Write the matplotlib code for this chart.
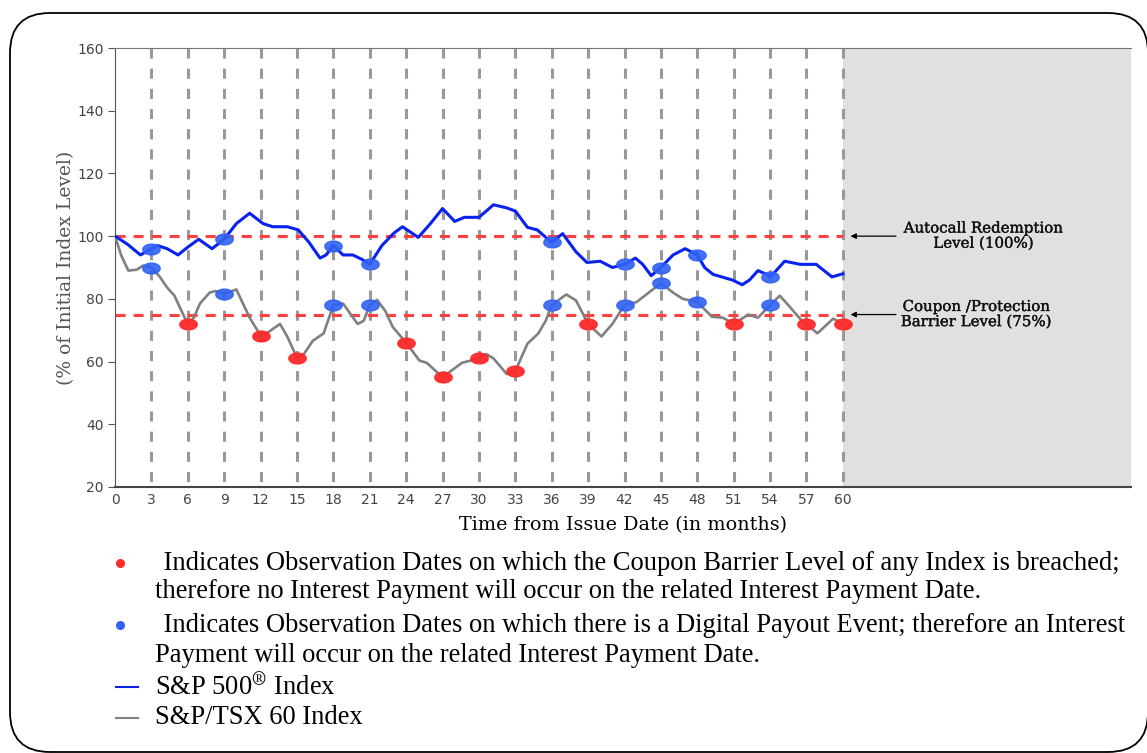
import numpy as np
import matplotlib
matplotlib.use("Agg")
import matplotlib.pyplot as plt
import matplotlib.patheffects as pe
from matplotlib.path import Path
from matplotlib.patches import FancyBboxPatch

plt.rcParams['mathtext.fontset'] = 'stix'

# S&P 500 path (month, % of initial level)
spx_month = [0, 1, 2.1, 3, 3.5, 4.3, 5.2, 6.0, 6.9, 8, 9, 10, 11.1, 12.2, 13, 14.2, 15.1,
             16, 16.9, 17.4, 18, 18.8, 19.6, 20.4, 21, 22, 23, 23.7, 25, 26, 27, 28, 28.8,
             30, 31.2, 32.3, 33, 34, 34.8, 36, 36.9, 38, 38.9, 40, 41, 42, 42.9, 43.5,
             44.2, 45, 46, 47, 48, 48.6, 49.3, 50.9, 51.7, 52.3, 53, 53.6, 54, 54.5,
             55.2, 56.5, 57.8, 59.1, 60]
spx_level = [100, 97.5, 94, 96, 97, 96, 94, 96.5, 99, 96, 99, 104, 107.3, 104, 103, 103, 102,
             98, 93, 94, 97, 94, 94, 92.5, 91, 97, 101, 103, 99.6, 104, 108.8, 104.7, 106,
             106, 110, 109, 108, 102.8, 102, 98, 100.8, 95, 91.6, 92, 90, 91, 93, 91,
             87.4, 90, 94, 96, 94, 90, 87.8, 86, 84.5, 86, 89, 88, 87, 89,
             92, 91, 91, 87, 88]

# S&P/TSX 60 path
tsx_month = [0, 0.5, 1.1, 1.8, 2.3, 3, 3.7, 4.3, 4.9, 5.5, 6, 6.5, 7, 7.8, 8.3, 9, 10, 11.1,
             12, 12.5, 13.6, 14.2, 15, 15.5, 16.3, 17.2, 18, 18.8, 20, 20.5, 21, 21.6, 22.3,
             22.9, 24, 25.1, 25.7, 27, 28.6, 30, 30.6, 31.2, 32.3, 33, 34, 34.9, 35.5, 36,
             37.2, 38, 39, 40.1, 41, 42, 43, 44, 45, 46, 46.8, 48, 49.2, 50.1, 51, 52.2,
             53, 54, 54.8, 55.5, 56.5, 57, 57.9, 59.2, 60]
tsx_level = [100, 94, 89, 89.3, 90.6, 90, 87, 83.6, 81, 76, 72, 74, 78.5, 82, 82.5, 81.5, 83, 74,
             68.3, 69, 72, 68, 61.2, 62, 66.6, 69, 78, 78.5, 72, 73, 78, 79.7, 76,
             71, 66, 60.3, 59.6, 55, 59.6, 61, 62.4, 61, 56, 57, 65.7, 69, 73, 78,
             81.4, 79.5, 72, 68, 72, 78, 79, 82, 85, 82, 80, 79, 74.3, 74, 72, 75,
             74, 78, 81, 78, 73.5, 72, 69, 73.7, 72]

# observation dates with a digital payout event (blue) and barrier breach (red)
blue_month = [3, 9, 18, 21, 36, 42, 45, 48, 54]
blue_spx = [96, 99, 97, 91, 98, 91, 90, 94, 87]
blue_tsx = [90, 81.5, 78, 78, 78, 78, 85, 79, 78]
red_month = [6, 12, 15, 24, 27, 30, 33, 39, 51, 57, 60]
red_tsx = [72, 68.3, 61.2, 66, 55, 61, 57, 72, 72, 72, 72]

obs_months = list(range(3, 61, 3))
autocall_level = 100
barrier_level = 75

W, H = 1147, 753
fig = plt.figure(figsize=(W / 100, H / 100), dpi=100)
fig.patch.set_facecolor('white')

# overlay in pixel coordinates for frame and notes
ov = fig.add_axes([0, 0, 1, 1], zorder=0)
ov.set_xlim(0, W)
ov.set_ylim(H, 0)
ov.axis('off')
frame = FancyBboxPatch((10, 13), 1138, 739, boxstyle='round,pad=0,rounding_size=40',
                       fill=False, ec='black', lw=1.3, clip_on=False)
ov.add_patch(frame)

ax = fig.add_axes([115 / W, 1 - 487 / H, (1131 - 115) / W, (487 - 48) / H], zorder=1)
x_end = 83.75
ax.set_xlim(0, x_end)
ax.set_ylim(20, 160)
ax.axvspan(60, x_end, color='#e0e0e0', zorder=0, lw=0)

for m in obs_months:
    ax.plot([m, m], [160, 20], color='#999999', lw=2.2, ls=(0, (3.3, 3.3)), zorder=1)

for lvl in [autocall_level, barrier_level]:
    ax.plot([0, 60], [lvl, lvl], color='#ff4040', lw=2.2, ls=(0, (3.3, 2.6)), zorder=2)

ax.plot(tsx_month, tsx_level, color='#808080', lw=1.9, zorder=3, solid_joinstyle='round')
ax.plot(spx_month, spx_level, color='#0a22f0', lw=2.2, zorder=4, solid_joinstyle='round')

t = np.linspace(0, 2 * np.pi, 60)
ell = Path(np.column_stack([np.cos(t), 0.62 * np.sin(t)]), closed=True)
ax.plot(blue_month, blue_spx, ls='none', marker=ell, ms=12.5, color='#2f62f5', alpha=0.9, zorder=5)
ax.plot(blue_month, blue_tsx, ls='none', marker=ell, ms=12.5, color='#2f62f5', alpha=0.9, zorder=5)
ax.plot(red_month, red_tsx, ls='none', marker=ell, ms=12.5, color='#ff2a2a', alpha=0.95, zorder=5)

ax.annotate('', xy=(60.4, autocall_level), xytext=(64.6, autocall_level),
            arrowprops=dict(arrowstyle='-|>', color='black', lw=0.9, mutation_scale=8))
ax.annotate('', xy=(60.4, barrier_level), xytext=(64.6, barrier_level),
            arrowprops=dict(arrowstyle='-|>', color='black', lw=0.9, mutation_scale=8))
thick = [pe.withStroke(linewidth=0.25, foreground='#111111')]
ax.text(71.6, autocall_level, 'Autocall Redemption\nLevel (100%)', ha='center', va='center',
        family='DejaVu Serif', fontsize=10.8, color='#111111', linespacing=1.1, path_effects=thick)
ax.text(71.0, barrier_level, 'Coupon /Protection\nBarrier Level (75%)', ha='center', va='center',
        family='DejaVu Serif', fontsize=10.8, color='#111111', linespacing=1.1, path_effects=thick)

ax.set_yticks(range(20, 161, 20))
ax.set_xticks(range(0, 61, 3))
ax.tick_params(axis='y', length=5, color='#555555', labelcolor='#444444', labelsize=10, pad=3)
ax.tick_params(axis='x', length=0, labelcolor='#444444', labelsize=10, pad=4)
ax.spines['right'].set_visible(False)
ax.spines['top'].set_color('#777777')
ax.spines['left'].set_color('#555555')
ax.spines['bottom'].set_color('#444444')
ax.spines['bottom'].set_linewidth(1.5)

ax.set_ylabel('(% of Initial Index Level)', family='DejaVu Serif', fontsize=13.5,
              color='#555555', labelpad=1.5)
ax.set_xlabel('Time from Issue Date (in months)', family='DejaVu Serif', fontsize=13.8,
              color='black', labelpad=7)

# notes below the chart
note_font = dict(family='Liberation Serif', fontsize=19.1, color='black', va='center')
ov.plot([120], [563], 'o', ms=5.5, color='#ff2a2a')
ov.plot([120], [625], 'o', ms=5.5, color='#2f62f5')
ov.text(157, 563, ' Indicates Observation Dates on which the Coupon Barrier Level of any Index is breached;', **note_font)
ov.text(155, 592, 'therefore no Interest Payment will occur on the related Interest Payment Date.', **note_font)
ov.text(157, 625, ' Indicates Observation Dates on which there is a Digital Payout Event; therefore an Interest', **note_font)
ov.text(155, 655, 'Payment will occur on the related Interest Payment Date.', **note_font)
ov.plot([116, 138], [687, 687], color='#0a22f0', lw=1.5)
ov.plot([116, 138], [718, 718], color='#808080', lw=1.5)
ov.text(155, 687, r'S&P 500$^{\circledR}$ Index', **note_font)
ov.text(155, 718, 'S&P/TSX 60 Index', **note_font)

fig.savefig('out.png', dpi=100, facecolor='white')
